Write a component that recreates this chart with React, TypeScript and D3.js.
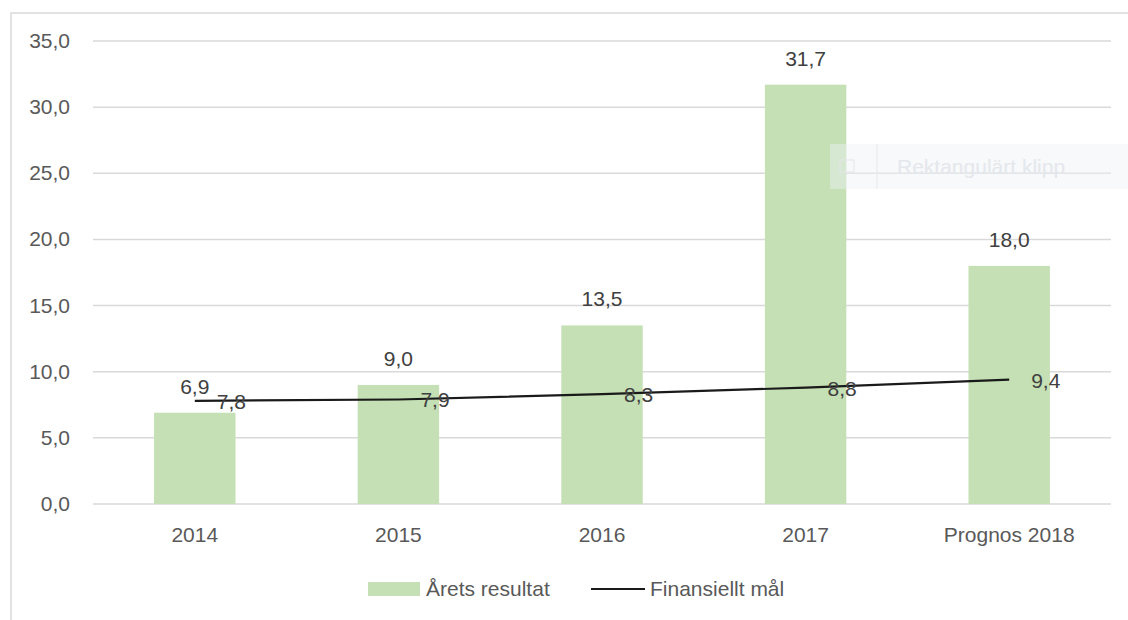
import React from 'react';
import * as d3 from 'd3';

const categories = ['2014', '2015', '2016', '2017', 'Prognos 2018'];
const resultValues = [6.9, 9.0, 13.5, 31.7, 18.0];
const goalValues = [7.8, 7.9, 8.3, 8.8, 9.4];
const yTicks = [0, 5, 10, 15, 20, 25, 30, 35];

const W = 1128;
const H = 620;
const FONT = '"Liberation Sans", Arial, sans-serif';
const fmt = (v: number) => v.toFixed(1).replace('.', ',');

const App = () => {
  const x = d3.scaleBand().domain(categories).range([93, 1111]).paddingInner(0.6).paddingOuter(0.3);
  const y = d3.scaleLinear().domain([0, 35]).range([504, 41]);
  const cx = (c: string) => x(c)! + x.bandwidth() / 2;

  const line = d3
    .line<number>()
    .x((_, i) => cx(categories[i]))
    .y((d) => y(d));

  return (
    <svg width={W} height={H} style={{ position: 'absolute', left: 0, top: 0, background: '#fff' }} fontFamily={FONT}>
      {/* chart border, runs off the right and bottom edges */}
      <rect x={11} y={13} width={W + 20} height={H + 20} fill="#fff" stroke="#d9d9d9" strokeWidth={1.5} />

      {/* gridlines + y ticks */}
      {yTicks.map((t) => (
        <g key={t}>
          <line x1={93} x2={1111} y1={y(t)} y2={y(t)} stroke="#d9d9d9" strokeWidth={1.5} />
          <text x={70} y={y(t) + 7} textAnchor="end" fontSize={21} fill="#595959">
            {fmt(t)}
          </text>
        </g>
      ))}

      {/* bars */}
      {resultValues.map((v, i) => (
        <rect
          key={categories[i]}
          x={x(categories[i])}
          y={y(v)}
          width={x.bandwidth()}
          height={y(0) - y(v)}
          fill="#c5e0b4"
        />
      ))}

      {/* snipping tool tooltip ghost, faint overlay */}
      <g>
        <rect x={830} y={144} width={298} height={45} fill="#eef1f6" fillOpacity={0.45} />
        <line x1={877} x2={877} y1={144} y2={189} stroke="#e6e9ee" />
        <rect x={840} y={160} width={14} height={12} fill="none" stroke="#e3e6eb" />
        <text x={897} y={174} fontSize={21} fill="#e4e7ec">
          Rektangulärt klipp
        </text>
      </g>

      {/* bar labels */}
      {resultValues.map((v, i) => (
        <text key={'b' + i} x={cx(categories[i])} y={y(v) - 19} textAnchor="middle" fontSize={21} fill="#404040">
          {fmt(v)}
        </text>
      ))}

      {/* goal line */}
      <path d={line(goalValues) || ''} fill="none" stroke="#1a1a1a" strokeWidth={2.2} />
      {goalValues.map((v, i) => (
        <text key={'g' + i} x={cx(categories[i]) + 22} y={y(v) + 8} fontSize={21} fill="#404040">
          {fmt(v)}
        </text>
      ))}

      {/* x labels */}
      {categories.map((c) => (
        <text key={c} x={cx(c)} y={542} textAnchor="middle" fontSize={21} fill="#595959">
          {c}
        </text>
      ))}

      {/* legend */}
      <rect x={368} y={582} width={52} height={14} fill="#c5e0b4" />
      <text x={426} y={596} fontSize={21} fill="#595959">
        Årets resultat
      </text>
      <line x1={591} x2={645} y1={589} y2={589} stroke="#1a1a1a" strokeWidth={2.2} />
      <text x={650} y={596} fontSize={21} fill="#595959">
        Finansiellt mål
      </text>
    </svg>
  );
};

export default App;
